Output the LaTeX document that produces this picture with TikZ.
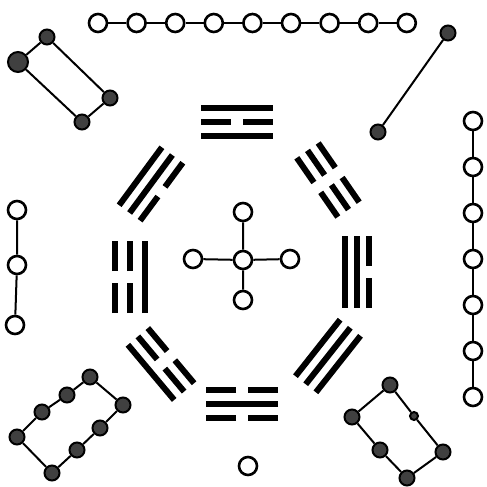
\documentclass[tikz,border=0pt]{standalone}
\usetikzlibrary{positioning}
\def\barhalf{36}
\def\gaphalf{6}
\newcommand\yang[1]{\draw [yaobar] (-\barhalf,#1) -- (\barhalf,#1);}
\newcommand\yin[1]{\draw [yaobar] (-\barhalf,#1) -- (-\gaphalf,#1) (\gaphalf,#1) -- (\barhalf,#1);}

\begin{document}
\begin{tikzpicture} [
    x=0.5pt, y=-0.5pt, line width=1pt,
    yangdot/.style={circle, draw, line width=1.3pt, fill=white, inner sep=0pt, minimum size=9pt},
    yindot/.style={circle, draw, line width=1pt, fill=black!75, inner sep=0pt, minimum size=7.5pt},
    yaobar/.style={line width=3pt}
  ]
  \useasboundingbox (0,0) rectangle (487,487);

  % trigrams, inner line first
  \begin{scope} [shift={(237,122)}, rotate=0]
    \yang{14} \yin{0} \yang{-14}
  \end{scope}
  \begin{scope} [shift={(242,404)}, rotate=180]
    \yin{14} \yang{0} \yin{-14}
  \end{scope}
  \begin{scope} [shift={(130,277)}, rotate=90]
    \yang{15} \yin{0} \yin{-15}
  \end{scope}
  \begin{scope} [shift={(357,272)}, rotate=270]
    \yang{12} \yang{0} \yin{-12}
  \end{scope}
  \begin{scope} [shift={(151,184)}, rotate=53.6]
    \yin{13} \yang{0} \yang{-13}
  \end{scope}
  \begin{scope} [shift={(328,180)}, rotate=-55.3]
    \yin{13} \yin{0} \yin{-13}
  \end{scope}
  \begin{scope} [shift={(161,364)}, rotate=130]
    \yin{13} \yin{0} \yang{-13}
  \end{scope}
  \begin{scope} [shift={(328,356)}, rotate=231.7]
    \yang{13} \yang{0} \yang{-13}
  \end{scope}

  % nine
  \foreach \i in {1,...,9}
    \node [yangdot] (nine\i) at ({98+(\i-1)*38.6}, 23) {};
  \foreach \i [count=\j from 2] in {1,...,8}
    \draw (nine\i) -- (nine\j);

  % seven
  \foreach \i in {1,...,7}
    \node [yangdot] (seven\i) at (473, {121+(\i-1)*46}) {};
  \foreach \i [count=\j from 2] in {1,...,6}
    \draw (seven\i) -- (seven\j);

  % three
  \node [yangdot] (three1) at (17,210) {};
  \node [yangdot] (three2) at (17,265) {};
  \node [yangdot] (three3) at (15,325) {};
  \draw (three1) -- (three2) -- (three3);

  % five
  \node [yangdot] (five0) at (243,260) {};
  \node [yangdot] (five1) at (243,212) {};
  \node [yangdot] (five2) at (193,259) {};
  \node [yangdot] (five3) at (290,259) {};
  \node [yangdot] (five4) at (243,300) {};
  \draw (five1) -- (five0) -- (five4) (five2) -- (five0) -- (five3);

  % one
  \node [yangdot] (one1) at (248,466) {};

  % four
  \node [yindot] (four1) at (47,37) {};
  \node [yindot, minimum size=10pt] (four2) at (18,62) {};
  \node [yindot] (four3) at (110,98) {};
  \node [yindot] (four4) at (82,122) {};
  \draw (four1) -- (four2) -- (four4) -- (four3) -- (four1);

  % two
  \node [yindot] (two1) at (448,33) {};
  \node [yindot] (two2) at (378,132) {};
  \draw (two1) -- (two2);

  % eight
  \node [yindot] (eight1) at (90,377) {};
  \node [yindot] (eight2) at (67,395) {};
  \node [yindot] (eight3) at (42,412) {};
  \node [yindot] (eight4) at (17,437) {};
  \node [yindot] (eight5) at (52,473) {};
  \node [yindot] (eight6) at (77,450) {};
  \node [yindot] (eight7) at (100,428) {};
  \node [yindot] (eight8) at (123,405) {};
  \draw (eight1) -- (eight2) -- (eight3) -- (eight4) -- (eight5) -- (eight6)
    -- (eight7) -- (eight8) -- (eight1);

  % six
  \node [yindot] (six1) at (390,385) {};
  \node [yindot] (six2) at (352,417) {};
  \node [yindot] (six3) at (380,450) {};
  \node [yindot] (six4) at (407,478) {};
  \node [yindot] (six5) at (443,452) {};
  \node [yindot, minimum size=4pt] (six6) at (414,416) {};
  \draw (six1) -- (six2) -- (six3) -- (six4) -- (six5) -- (six6) -- (six1);
\end{tikzpicture}
\end{document}
